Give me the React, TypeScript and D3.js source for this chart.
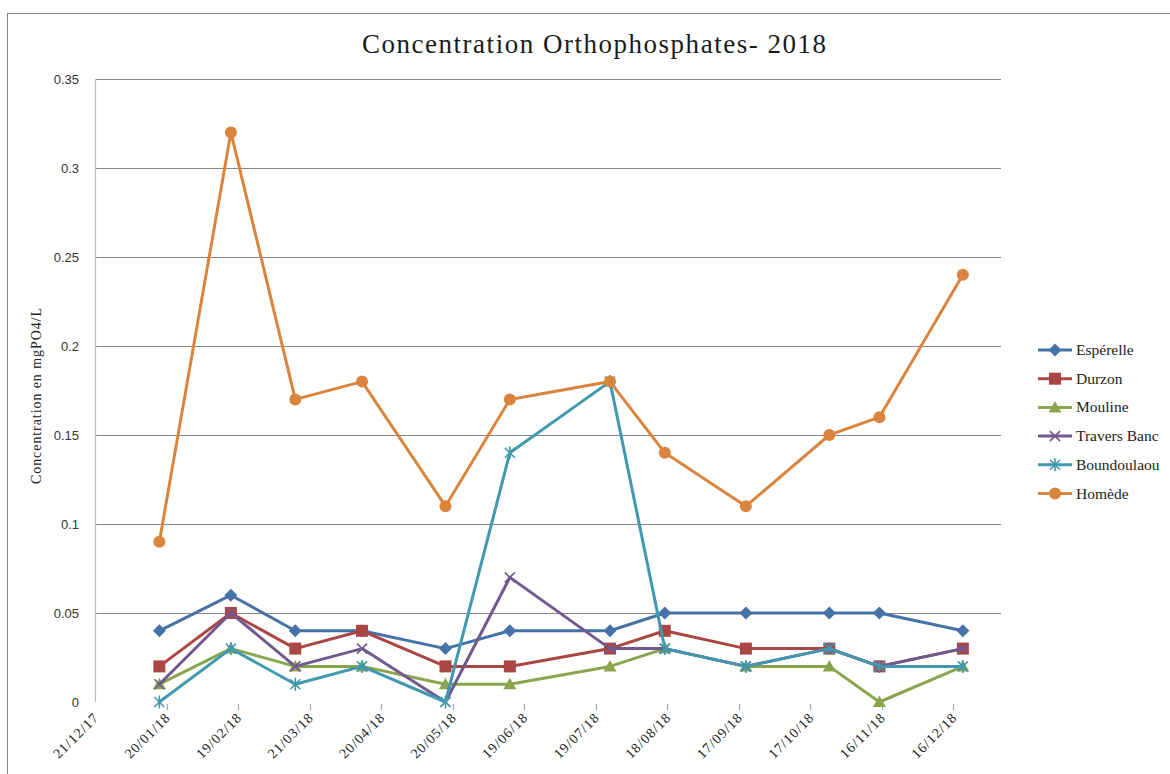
import React from "react";
import * as d3 from "d3";

const seriesNames = ["Espérelle", "Durzon", "Mouline", "Travers Banc", "Boundoulaou", "Homède"];
const sampleDates = ["17/01/18", "16/02/18", "15/03/18", "12/04/18", "17/05/18", "13/06/18", "25/07/18", "17/08/18", "20/09/18", "25/10/18", "15/11/18", "20/12/18"];
const esperelle = [0.04, 0.06, 0.04, 0.04, 0.03, 0.04, 0.04, 0.05, 0.05, 0.05, 0.05, 0.04];
const durzon = [0.02, 0.05, 0.03, 0.04, 0.02, 0.02, 0.03, 0.04, 0.03, 0.03, 0.02, 0.03];
const mouline = [0.01, 0.03, 0.02, 0.02, 0.01, 0.01, 0.02, 0.03, 0.02, 0.02, 0, 0.02];
const traversBanc = [0.01, 0.05, 0.02, 0.03, 0, 0.07, 0.03, 0.03, 0.02, 0.03, 0.02, 0.03];
const boundoulaou = [0, 0.03, 0.01, 0.02, 0, 0.14, 0.18, 0.03, 0.02, 0.03, 0.02, 0.02];
const homede = [0.09, 0.32, 0.17, 0.18, 0.11, 0.17, 0.18, 0.14, 0.11, 0.15, 0.16, 0.24];
const xTickLabels = ["21/12/17", "20/01/18", "19/02/18", "21/03/18", "20/04/18", "20/05/18", "19/06/18", "19/07/18", "18/08/18", "17/09/18", "17/10/18", "16/11/18", "16/12/18"];
const yTicks = [0, 0.05, 0.1, 0.15, 0.2, 0.25, 0.3, 0.35];
const yTickLabels = ["0", "0.05", "0.1", "0.15", "0.2", "0.25", "0.3", "0.35"];
const xDomain = ["21/12/17", "05/01/19"];

const colors = ["#4572A7", "#AA4643", "#89A54E", "#71588F", "#4198AF", "#DB843D"];
const markerTypes = ["diamond", "square", "triangle", "x", "star", "circle"];

const parse = d3.utcParse("%d/%m/%y");

function Marker({ type, x, y, color }: { type: string; x: number; y: number; color: string }) {
  const t = `translate(${x},${y})`;
  switch (type) {
    case "diamond":
      return <path transform={t} d="M0,-6.5L6.5,0L0,6.5L-6.5,0Z" fill={color} />;
    case "square":
      return <path transform={t} d="M-6,-6H6V6H-6Z" fill={color} />;
    case "triangle":
      return <path transform={t} d="M0,-6.5L6.5,5L-6.5,5Z" fill={color} />;
    case "x":
      return <path transform={t} d="M-5,-5L5,5M5,-5L-5,5" stroke={color} strokeWidth={1.6} fill="none" />;
    case "star":
      return <path transform={t} d="M-5,-5L5,5M5,-5L-5,5M0,-6.5V6.5" stroke={color} strokeWidth={1.6} fill="none" />;
    default:
      return <circle cx={x} cy={y} r={6} fill={color} />;
  }
}

export default function App() {
  const W = 1170, H = 774;
  const left = 95, right = 1001, top = 79, bottom = 702;
  const x = d3.scaleUtc().domain(xDomain.map((d) => parse(d) as Date)).range([left, right]);
  const y = d3.scaleLinear().domain([0, 0.35]).range([bottom, top]);
  const dates = sampleDates.map((d) => parse(d) as Date);
  const allSeries = [esperelle, durzon, mouline, traversBanc, boundoulaou, homede];
  const line = d3
    .line<number>()
    .x((_, i) => x(dates[i]))
    .y((d) => y(d));
  const serif = "'Liberation Serif', 'DejaVu Serif', serif";
  const sans = "'Liberation Sans', Arial, sans-serif";
  const legendY0 = 350, legendStep = 28.7;

  return (
    <svg width={W} height={H} style={{ position: "absolute", left: 0, top: 0, background: "#fff" }}>
      <rect x={0} y={0} width={W} height={H} fill="#fff" />
      <rect x={7.5} y={13.5} width={W + 20} height={H + 20} fill="none" stroke="#868686" strokeWidth={1} />
      <text x={594} y={53} textAnchor="middle" fontFamily={serif} fontSize={27} fill="#1a1a1a" textLength={464}>
        Concentration Orthophosphates- 2018
      </text>
      {yTicks.map((v, i) =>
        v === 0 ? null : (
          <line key={"g" + i} x1={left} x2={right} y1={Math.round(y(v)) + 0.5} y2={Math.round(y(v)) + 0.5} stroke="#868686" strokeWidth={1} />
        )
      )}
      <line x1={left + 0.5} x2={left + 0.5} y1={top} y2={bottom} stroke="#BDBDBD" strokeWidth={1.2} />
      {yTicks.map((v, i) => (
        <text key={"yl" + i} x={79} y={y(v)} dy="0.35em" textAnchor="end" fontFamily={sans} fontSize={13} fill="#333">
          {yTickLabels[i]}
        </text>
      ))}
      <text
        transform={`translate(41,396) rotate(-90)`}
        textAnchor="middle"
        fontFamily={serif}
        fontSize={14}
        fill="#222"
        textLength={176}
      >
        Concentration en mgPO4/L
      </text>
      {xTickLabels.map((lab, i) => {
        const xv = x(parse(lab) as Date);
        return (
          <g key={"xt" + i}>
            {i > 0 && <line x1={Math.round(xv) + 0.5} x2={Math.round(xv) + 0.5} y1={704} y2={710} stroke="#A6A6A6" strokeWidth={1.2} />}
            <text
              transform={`translate(${xv + 4},${719}) rotate(-45)`}
              textAnchor="end"
              fontFamily={serif}
              fontSize={14}
              fill="#222"
              textLength={57}
            >
              {lab}
            </text>
          </g>
        );
      })}
      {allSeries.map((s, si) => (
        <g key={"s" + si}>
          <path d={line(s) || ""} fill="none" stroke={colors[si]} strokeWidth={3} strokeLinejoin="round" strokeLinecap="round" />
          {s.map((v, i) => (
            <Marker key={i} type={markerTypes[si]} x={x(dates[i])} y={y(v)} color={colors[si]} />
          ))}
        </g>
      ))}
      {seriesNames.map((n, i) => {
        const ly = legendY0 + i * legendStep;
        return (
          <g key={"lg" + i}>
            <line x1={1038} x2={1072} y1={ly} y2={ly} stroke={colors[i]} strokeWidth={3} />
            <Marker type={markerTypes[i]} x={1055} y={ly} color={colors[i]} />
            <text x={1076} y={ly + 5} fontFamily={serif} fontSize={15.5} fill="#222">
              {n}
            </text>
          </g>
        );
      })}
    </svg>
  );
}
